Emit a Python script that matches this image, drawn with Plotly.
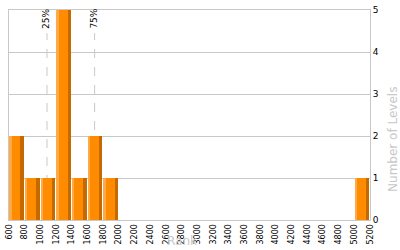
import plotly.graph_objects as go

# Data
bin_starts = [600, 800, 1000, 1200, 1400, 1600, 1800, 5000]
counts = [2, 1, 1, 5, 1, 2, 1, 1]
bin_width = 200
x_ticks = list(range(600, 5201, 200))
y_ticks = [0, 1, 2, 3, 4, 5]
quartiles = [("25%", 1084), ("75%", 1691)]

centers = [b + bin_width / 2 for b in bin_starts]

fig = go.Figure()
# 3D-look bars: dark full, orange body, light left edge
layers = [("#C46A00", 180), ("#FF8C00", 136), ("#FFAA48", 22)]
for color, w in layers:
    fig.add_trace(go.Bar(
        x=centers, y=counts, width=[w] * len(centers), offset=-90,
        marker=dict(color=color, line=dict(width=0)),
        hoverinfo="skip", showlegend=False,
    ))

for label, xv in quartiles:
    fig.add_shape(type="line", xref="x", yref="paper", x0=xv, x1=xv, y0=0, y1=0.89,
                  line=dict(color="#c8c8c8", width=1, dash="dash"), layer="below")
    fig.add_annotation(x=xv, y=1, xref="x", yref="paper", text=label, textangle=-90,
                       showarrow=False, xanchor="center", yanchor="top", xshift=-1, yshift=3,
                       font=dict(family="DejaVu Sans", size=9, color="#000"))

fig.add_annotation(text="Rank", xref="paper", yref="paper", x=0.48, y=-30 / 215,
                   xanchor="center", yanchor="bottom", showarrow=False, borderpad=0,
                   font=dict(family="DejaVu Sans", size=12, color="#c8c8c8"))
fig.add_annotation(text="Number of Levels", xref="paper", yref="paper",
                   x=1.0, y=(220 - 138) / 215, xshift=23, textangle=-90,
                   xanchor="center", yanchor="middle", showarrow=False,
                   font=dict(family="DejaVu Sans", size=12, color="#c8c8c8"))

fig.update_layout(
    width=400, height=250,
    margin=dict(l=6, r=30, t=5, b=30),
    barmode="overlay", bargap=0,
    plot_bgcolor="white", paper_bgcolor="white",
    font=dict(family="DejaVu Sans", color="#000"),
)
fig.update_xaxes(
    range=[600, 5200], tickvals=x_ticks, ticktext=[str(v) for v in x_ticks],
    tickangle=-90, tickfont=dict(size=8, color="#000"),
    showgrid=False, zeroline=False, showline=True, linecolor="#c8c8c8", linewidth=1,
    mirror=True, ticks="",
)
fig.update_yaxes(
    range=[0, 5], tickvals=y_ticks, side="right",
    tickfont=dict(size=9, color="#000"),
    showgrid=True, gridcolor="#c8c8c8", gridwidth=1, zeroline=False,
    showline=True, linecolor="#c8c8c8", linewidth=1, mirror=True, ticks="",
)

fig.write_html("out.html")
